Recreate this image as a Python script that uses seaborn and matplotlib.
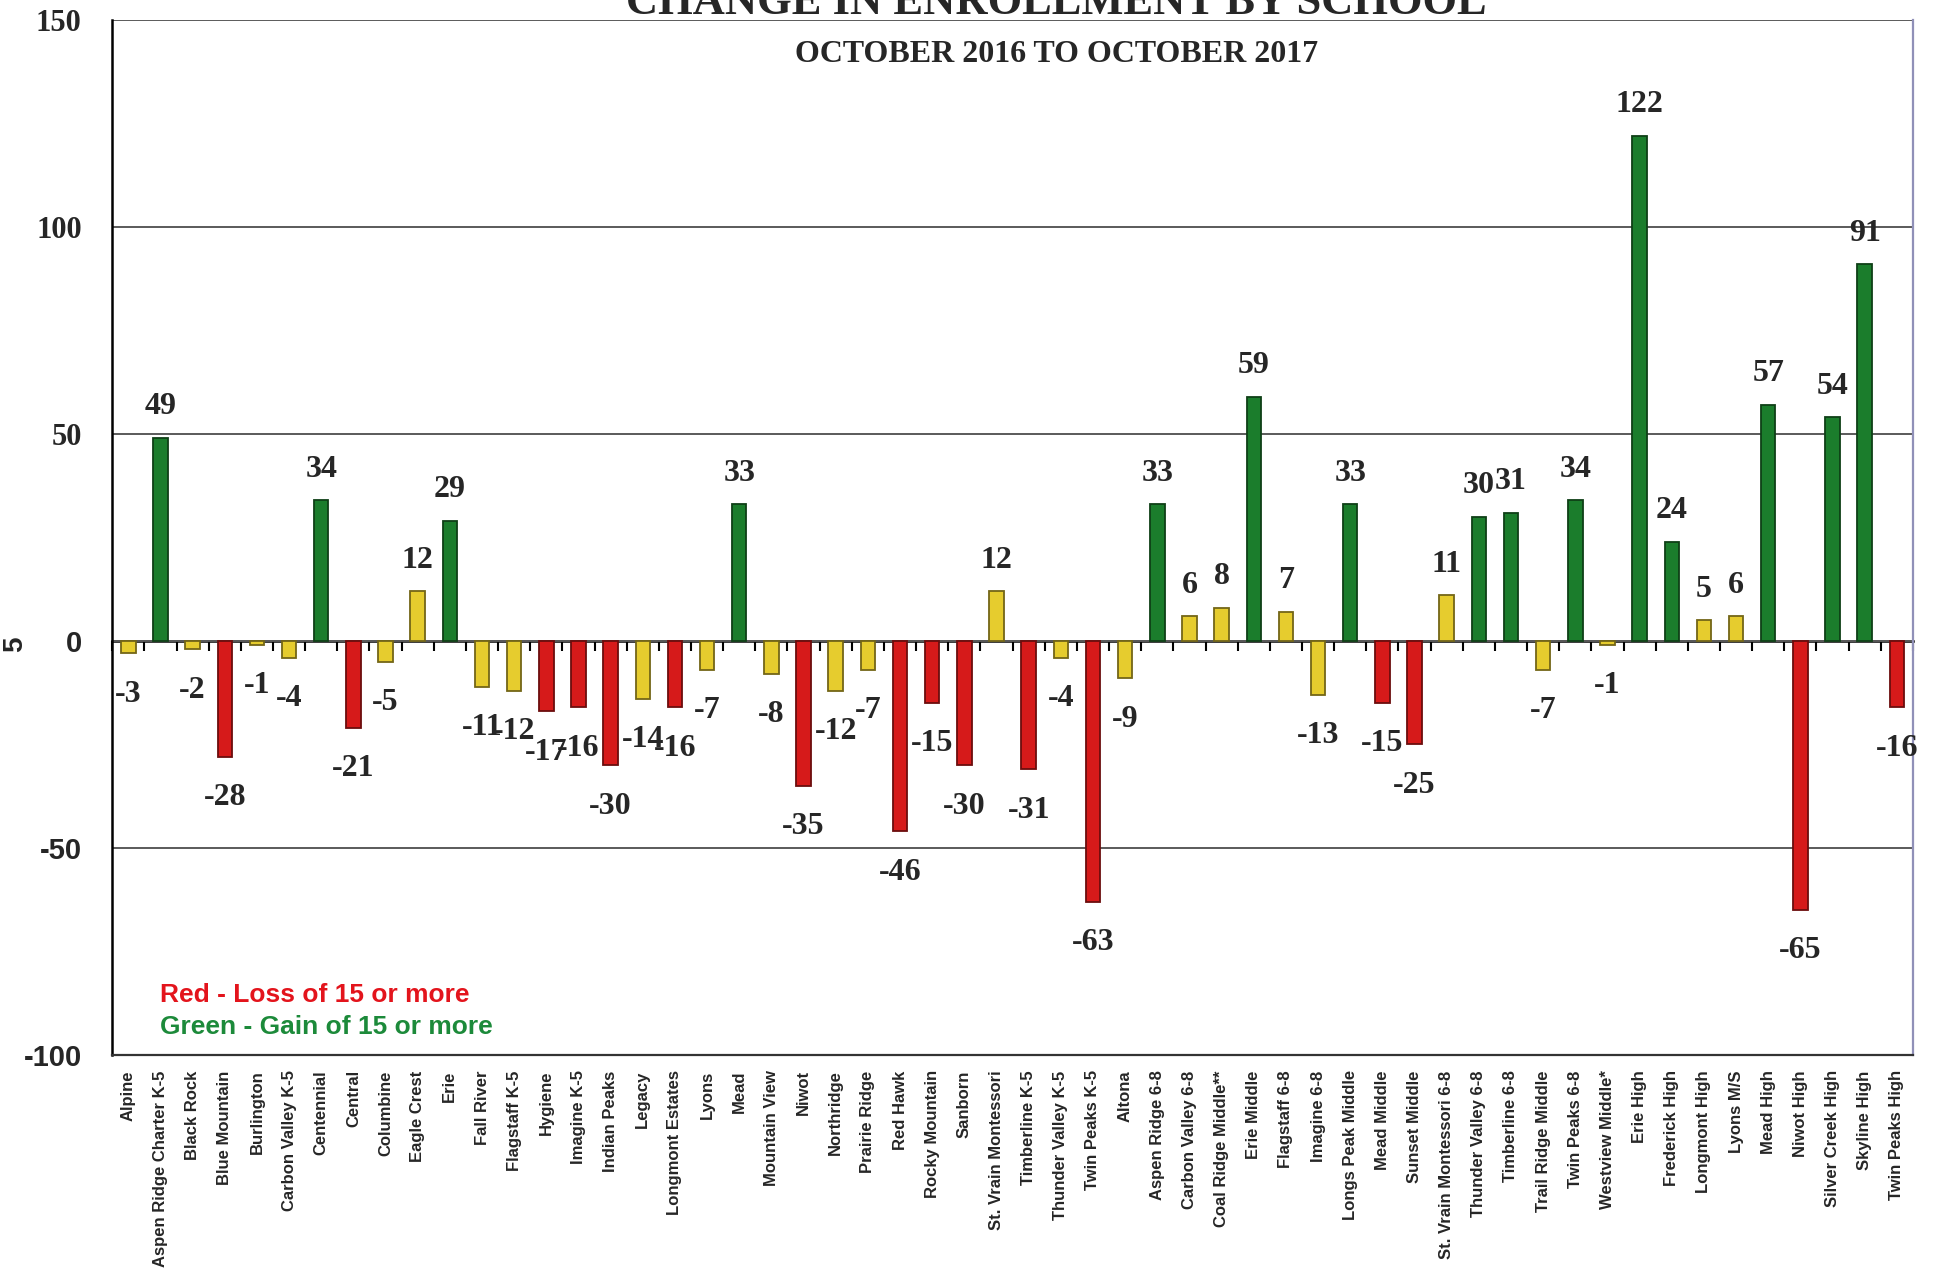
import numpy as np
import pandas as pd
import matplotlib
matplotlib.use("Agg")
import matplotlib.pyplot as plt
import seaborn as sns

# -------------------------
# Data
# -------------------------
schools = [
    "Alpine", "Aspen Ridge Charter K-5", "Black Rock", "Blue Mountain", "Burlington",
    "Carbon Valley K-5", "Centennial", "Central", "Columbine", "Eagle Crest", "Erie",
    "Fall River", "Flagstaff K-5", "Hygiene", "Imagine K-5", "Indian Peaks", "Legacy",
    "Longmont Estates", "Lyons", "Mead", "Mountain View", "Niwot", "Northridge",
    "Prairie Ridge", "Red Hawk", "Rocky Mountain", "Sanborn", "St. Vrain Montessori",
    "Timberline K-5", "Thunder Valley K-5", "Twin Peaks K-5", "Altona", "Aspen Ridge 6-8",
    "Carbon Valley 6-8", "Coal Ridge Middle**", "Erie Middle", "Flagstaff 6-8",
    "Imagine 6-8", "Longs Peak Middle", "Mead Middle", "Sunset Middle",
    "St. Vrain Montessori 6-8", "Thunder Valley 6-8", "Timberline 6-8",
    "Trail Ridge Middle", "Twin Peaks 6-8", "Westview Middle*", "Erie High",
    "Frederick High", "Longmont High", "Lyons M/S", "Mead High", "Niwot High",
    "Silver Creek High", "Skyline High", "Twin Peaks High",
]
change = [
    -3, 49, -2, -28, -1, -4, 34, -21, -5, 12, 29,
    -11, -12, -17, -16, -30, -14, -16, -7, 33, -8, -35, -12,
    -7, -46, -15, -30, 12, -31, -4, -63, -9, 33,
    6, 8, 59, 7, -13, 33, -15, -25,
    11, 30, 31, -7, 34, -1, 122,
    24, 5, 6, 57, -65, 54, 91, -16,
]
yticks = [-100, -50, 0, 50, 100, 150]

title = "CHANGE IN ENROLLMENT BY SCHOOL"
subtitle = "OCTOBER 2016 TO OCTOBER 2017"
note_red = "Red - Loss of 15 or more"
note_green = "Green - Gain of 15 or more"


def band(v):
    if v <= -15:
        return "loss"
    if v >= 15:
        return "gain"
    return "small"


df = pd.DataFrame({"school": schools, "change": change})
df["band"] = df["change"].apply(band)

palette = {"loss": "#d61a1a", "gain": "#1b7d2c", "small": "#e6cc2e"}

sns.set_style("white")
plt.rcParams["font.family"] = ["Liberation Sans", "DejaVu Sans"]
serif = ["Liberation Serif", "DejaVu Serif"]
sans = ["Liberation Sans", "DejaVu Sans"]

fig = plt.figure(figsize=(19.35, 12.78), dpi=100)
ax = fig.add_axes([0.058, 0.1745, 0.9306, 0.8099])

sns.barplot(data=df, x="school", y="change", hue="band", palette=palette,
            dodge=False, width=0.45, legend=False, order=schools, ax=ax,
            saturation=1)

# darker edges for a bit of the 3D look
for p in ax.patches:
    fc = p.get_facecolor()
    p.set_edgecolor(tuple(c * 0.5 for c in fc[:3]))
    p.set_linewidth(1.3)
    p.set_zorder(3)

# value labels
for i, v in enumerate(change):
    if v >= 0:
        ax.annotate(str(v), (i, v), xytext=(0, 17), textcoords="offset points",
                    ha="center", va="baseline", fontsize=23, fontweight="bold",
                    family=serif, zorder=5)
    else:
        ax.annotate(str(v), (i, v), xytext=(0, -19), textcoords="offset points",
                    ha="center", va="top", fontsize=23, fontweight="bold",
                    family=serif, zorder=5)

# axes styling
ax.set_ylim(-100, 150)
ax.set_xlim(-0.5, len(schools) - 0.5)
ax.set_yticks(yticks)
ax.yaxis.grid(True, color="#5a5a5a", linewidth=1.4)
ax.xaxis.grid(False)
ax.set_axisbelow(True)
ax.set_xlabel("")
ax.set_ylabel("")

ax.spines["top"].set_visible(False)
ax.spines["left"].set_color("black")
ax.spines["left"].set_linewidth(1.8)
ax.spines["bottom"].set_color("#333333")
ax.spines["bottom"].set_linewidth(1.6)
ax.spines["right"].set_color("#9090b8")
ax.spines["right"].set_linewidth(1.6)

ax.tick_params(axis="y", direction="out", length=8, width=1.4, color="#333333", pad=14)
ax.tick_params(axis="x", length=0, pad=11)
ax.set_xticks(range(len(schools)))
ax.set_xticklabels(schools, rotation=90, fontsize=12, fontweight="bold",
                   ha="center", va="top")

ax.set_yticklabels([str(v) for v in yticks])
for lab, val in zip(ax.get_yticklabels(), yticks):
    lab.set_fontsize(22 if val > 0 else 21)
    lab.set_fontweight("bold")
    lab.set_family(serif if val > 0 else sans)

# category axis at zero with tick marks between schools
sec = ax.secondary_xaxis(0, transform=ax.transData)
sec.set_xticks(np.arange(len(schools) + 1) - 0.5)
sec.tick_params(axis="x", direction="out", length=7, width=1.5, color="black",
                labelbottom=False, labeltop=False)
for s in sec.spines.values():
    s.set_color("black")
    s.set_linewidth(1.8)

# titles
fig.text(0.546, 1 - 14 / 1278, title, ha="center", va="baseline", fontsize=32,
         fontweight="bold", family=serif)
fig.text(0.546, 1 - 62 / 1278, subtitle, ha="center", va="baseline", fontsize=23,
         fontweight="bold", family=serif)

# color notes
fig.text(160 / 1935, 1 - 1002 / 1278, note_red, color="#e3141c", fontsize=19,
         fontweight="bold", va="baseline")
fig.text(160 / 1935, 1 - 1034 / 1278, note_green, color="#1c8a3a", fontsize=19,
         fontweight="bold", va="baseline")

# stray axis label fragment on the left
fig.text(15 / 1935, 1 - 644 / 1278, "5", rotation=90, fontsize=20,
         fontweight="bold", ha="center", va="center")

fig.savefig("out.png", dpi=100, facecolor="white")
